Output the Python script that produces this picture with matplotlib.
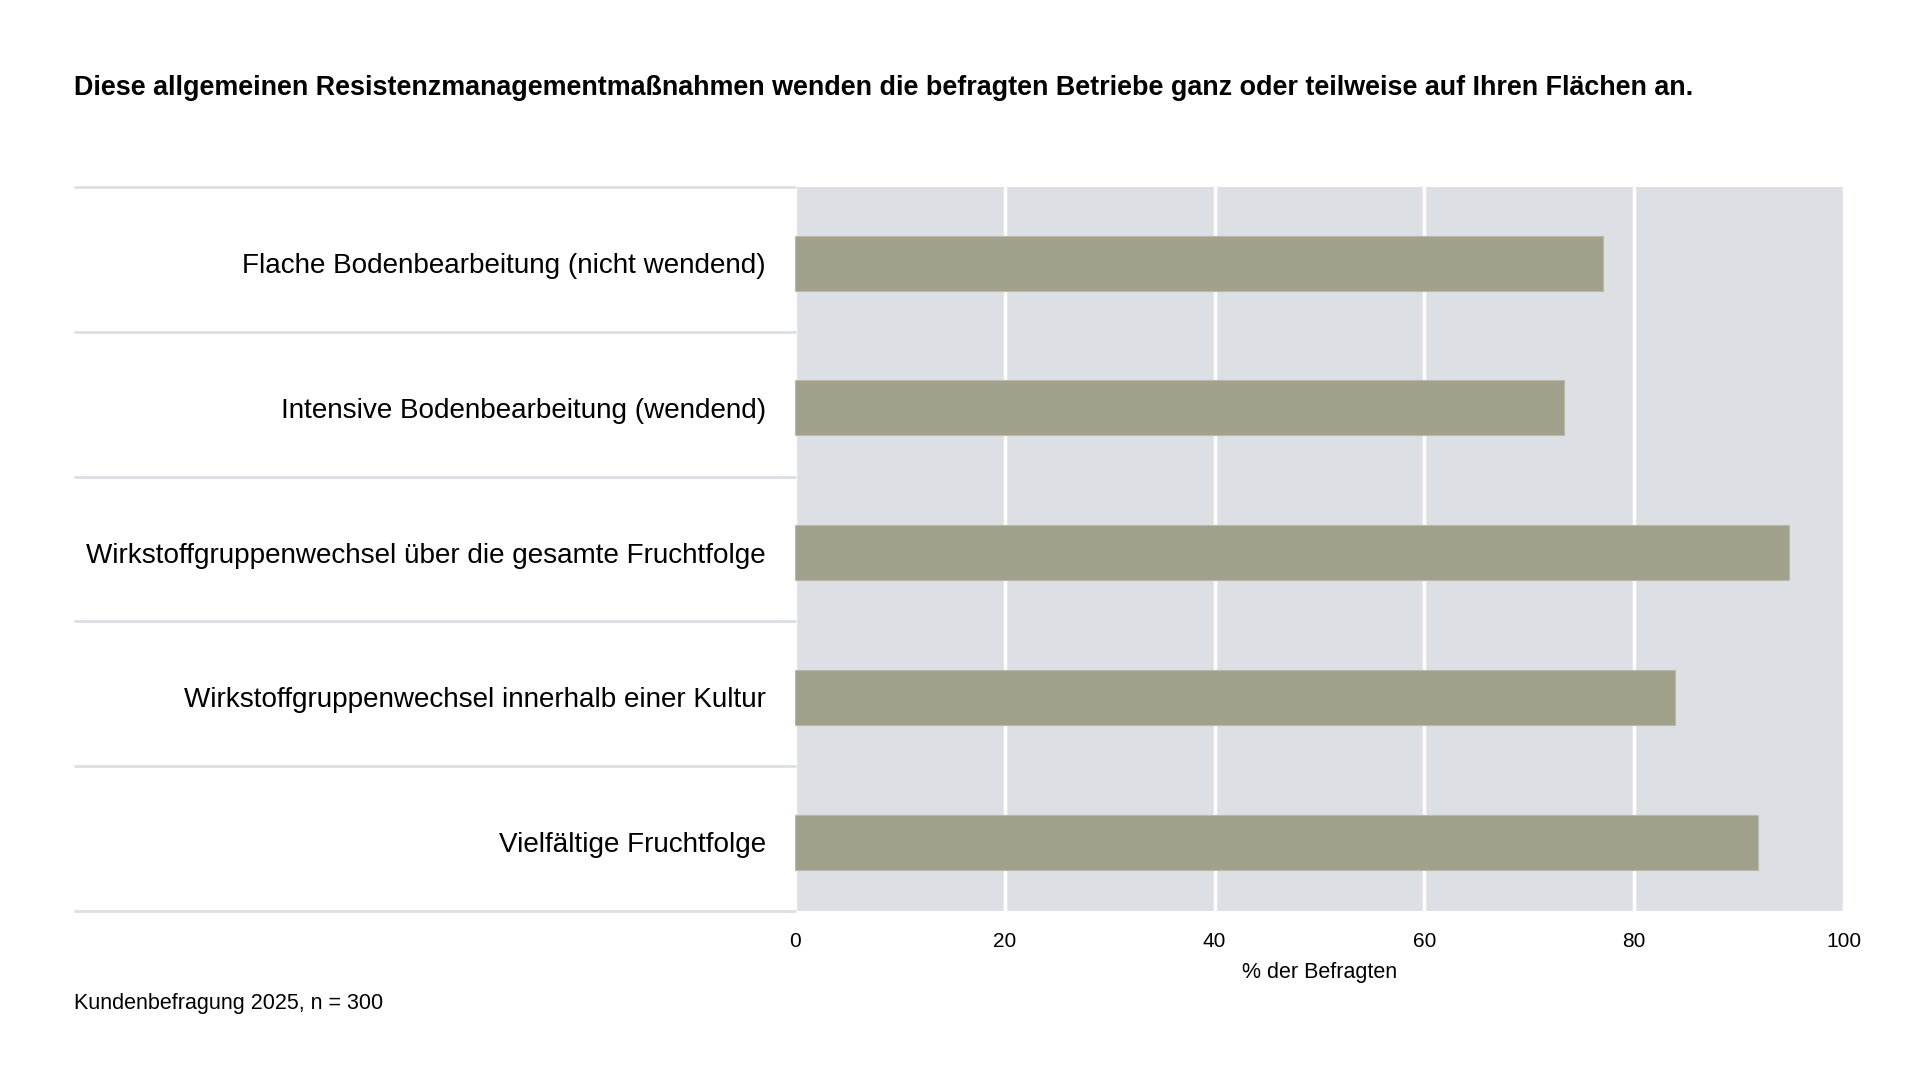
import matplotlib.pyplot as plt
from matplotlib.transforms import blended_transform_factory

plt.rcParams['font.family'] = ['Liberation Sans', 'DejaVu Sans']

# Daten
massnahmen = [
    'Flache Bodenbearbeitung (nicht wendend)',
    'Intensive Bodenbearbeitung (wendend)',
    'Wirkstoffgruppenwechsel über die gesamte Fruchtfolge',
    'Wirkstoffgruppenwechsel innerhalb einer Kultur',
    'Vielfältige Fruchtfolge',
]
anteile = [77.0, 73.3, 94.8, 83.9, 91.8]
x_ticks = [0, 20, 40, 60, 80, 100]

titel = 'Diese allgemeinen Resistenzmanagementmaßnahmen wenden die befragten Betriebe ganz oder teilweise auf Ihren Flächen an.'
quelle = 'Kundenbefragung 2025, n = 300'

fig = plt.figure(figsize=(19.2, 10.8), dpi=100)
ax = fig.add_axes([795 / 1920, 1 - 911 / 1080, (1844 - 795) / 1920, (911 - 187) / 1080])
ax.set_facecolor('#dcdfe4')

n = len(massnahmen)
pos = list(range(n))
ax.barh(pos, anteile, height=0.38, color='#a1a08a', edgecolor='#b9b9ab', linewidth=0.8, zorder=3)
ax.set_xlim(0, 100)
# Balken sitzen ein klein wenig unter der Zeilenmitte
ax.set_ylim(n - 0.5 - 0.025, -0.5 - 0.025)

ax.set_xticks(x_ticks)
ax.set_xticklabels([str(t) for t in x_ticks], fontsize=15)
ax.tick_params(axis='x', length=0, pad=15)
ax.set_yticks([])
ax.grid(axis='x', color='white', linewidth=2.5, zorder=1)
for s in ax.spines.values():
    s.set_visible(False)
ax.set_xlabel('% der Befragten', fontsize=15.5, labelpad=8)

# Beschriftungen links und Trennlinien
trans = blended_transform_factory(fig.transFigure, ax.transData)
for i, name in enumerate(massnahmen):
    ax.text(766 / 1920, i, name, transform=trans, ha='right', va='center_baseline', fontsize=20.1)
trans_ax = blended_transform_factory(fig.transFigure, ax.transAxes)
for k in range(n + 1):
    ax.plot([74 / 1920, 796 / 1920], [k / n, k / n], transform=trans_ax, color='#dcdfe4',
            linewidth=2, clip_on=False, solid_capstyle='butt')

fig.text(74 / 1920, 1 - 88 / 1080, titel, fontsize=19.4, fontweight='bold', va='center', ha='left')
fig.text(74 / 1920, 1 - 1003 / 1080, quelle, fontsize=15.5, va='center', ha='left')

fig.savefig('out.png', dpi=100)
